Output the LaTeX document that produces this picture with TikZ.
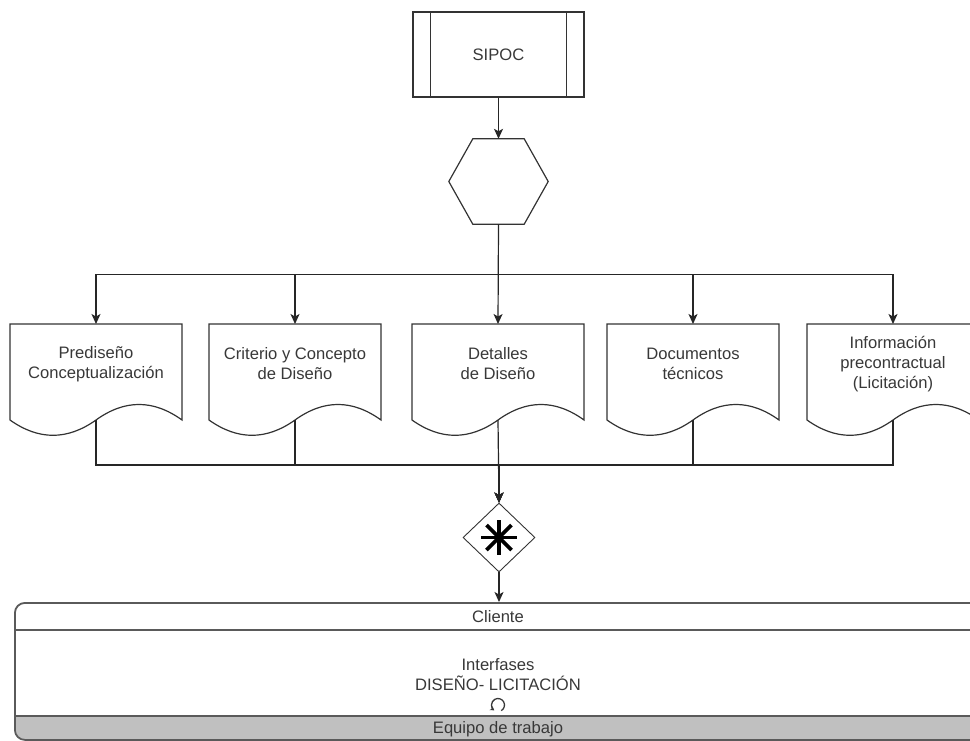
\documentclass[tikz,border=0pt]{standalone}
\usepackage{fontspec}
\setmainfont{Liberation Sans}
\usetikzlibrary{shapes.geometric,arrows.meta,calc}
\definecolor{txt}{HTML}{383838}
\definecolor{ln}{HTML}{333333}
\definecolor{pl}{HTML}{5A5A5A}
\definecolor{band}{HTML}{C0C0C0}
\tikzset{
  lbl/.style={text=txt, font=\fontsize{16.6}{20}\selectfont, align=center, inner sep=0pt},
  shp/.style={draw=ln, line width=1.2pt, line join=miter},
  arr/.style={draw=black!85, line width=1.2pt, -{Stealth[length=10pt,width=9pt,inset=2.5pt]}},
  lane/.style={draw=pl, line width=1.8pt},
}
\newcommand\mkdoc[3]{%
  \coordinate (#1-top) at (#2+86,324);
  \draw[shp] (#2,324) -- (#2+172,324) -- (#2+172,420)
    .. controls (#2+143.33,399.3) and (#2+114.67,399.3) .. (#2+86,420) coordinate (#1-b)
    .. controls (#2+57.33,440.4) and (#2+28.67,440.4) .. (#2,420) -- cycle;
  \node[lbl] (#1) at (#2+86,364) {#3};
}
\begin{document}
\begin{tikzpicture}[x=1pt,y=-1pt]
\useasboundingbox (0,0) rectangle (970,740);
\clip (0,0) rectangle (970,740);

% SIPOC predefined process
\node[shp, minimum width=171pt, minimum height=85pt, inner sep=0pt] (sipoc) at (498.5,54.5) {};
\node[lbl] (sipoct) at (498.5,54.5) {SIPOC};
\draw[shp] ([xshift=18pt]sipoc.north west) -- ([xshift=18pt]sipoc.south west);
\draw[shp] ([xshift=-18pt]sipoc.north east) -- ([xshift=-18pt]sipoc.south east);

% hexagon
\node[minimum width=99pt, minimum height=85pt, inner sep=0pt] (hex) at (498.5,181.5) {};
\draw[shp] ([xshift=24pt]hex.north west) -- ([xshift=-24pt]hex.north east) -- (hex.east)
  -- ([xshift=-24pt]hex.south east) -- ([xshift=24pt]hex.south west) -- (hex.west) -- cycle;

\draw[arr] (sipoc.south) -- (hex.north);

% documents
\mkdoc{d1}{10}{Prediseño\\Conceptualización}
\mkdoc{d2}{209}{Criterio y Concepto\\de Diseño}
\mkdoc{d3}{412}{Detalles\\de Diseño}
\mkdoc{d4}{607}{Documentos\\técnicos}
\mkdoc{d5}{807}{Información\\precontractual\\(Licitación)}

% gateway
\node[diamond, draw=ln, line width=0.9pt, minimum width=72pt, minimum height=69pt, inner sep=0pt] (gw) at (499,537.5) {};
\draw[line width=3.6pt, black] ($(gw)+(-18,0)$) -- ($(gw)+(18,0)$);
\draw[line width=3.6pt, black] ($(gw)+(0,-17.5)$) -- ($(gw)+(0,17.5)$);
\draw[line width=3.6pt, black] ($(gw)+(-12.5,-12.5)$) -- ($(gw)+(12.5,12.5)$);
\draw[line width=3.6pt, black] ($(gw)+(-12.5,12.5)$) -- ($(gw)+(12.5,-12.5)$);

% top distribution
\draw[arr] (hex.south) -- ++(0,50) -| (d1-top);
\draw[arr] (hex.south) -- ++(0,50) -| (d2-top);
\draw[arr] (hex.south) -- (d3-top);
\draw[arr] (hex.south) -- ++(0,50) -| (d4-top);
\draw[arr] (hex.south) -- ++(0,50) -| (d5-top);

% bottom merge
\draw[arr] (d1-b) -- ++(0,45) -| (gw.north);
\draw[arr] (d2-b) -- ++(0,45) -| (gw.north);
\draw[arr] (d3-b) -- (gw.north);
\draw[arr] (d4-b) -- ++(0,45) -| (gw.north);
\draw[arr] (d5-b) -- ++(0,45) -| (gw.north);

% pool
\begin{scope}
  \clip[rounded corners=10pt] (14,602) rectangle (1004,739);
  \fill[band] (0,716) rectangle (1010,740);
\end{scope}
\node[lane, rounded corners=10pt, minimum width=990pt, minimum height=137pt, anchor=north west, inner sep=0pt] (pool) at (14,602) {};
\draw[lane] (14,630) -- (1004,630);
\draw[lane] (14,716) -- (1004,716);

\draw[arr] (gw.south) -- (gw.south |- pool.north);

\node[lbl] (cli) at (498,617) {Cliente};
\node[lbl] (intf) at (498,675) {Interfases\\DISEÑO- LICITACIÓN};
\node[lbl] (eq) at (498,729) {Equipo de trabajo};
\draw[txt, line width=1.3pt, -{Stealth[length=4pt,width=5pt]}] ($(498,705)+(60:6.5)$) arc[start angle=60, end angle=-235, radius=6.5];
\end{tikzpicture}
\end{document}
